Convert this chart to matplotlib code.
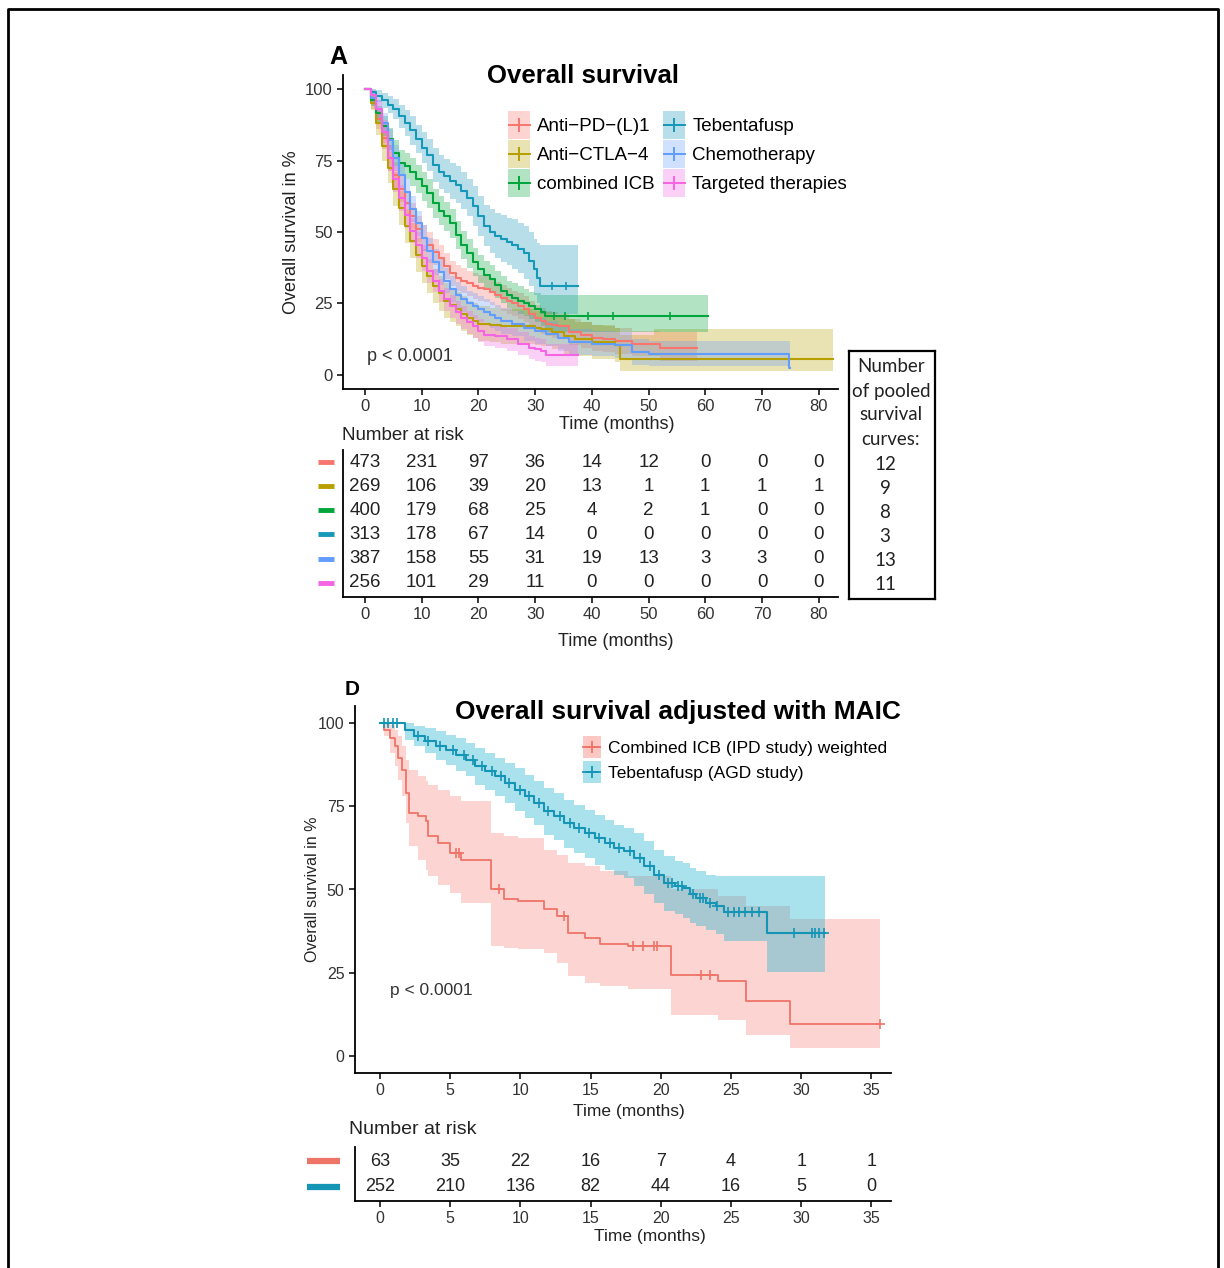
import numpy as np
import matplotlib.pyplot as plt
import matplotlib.transforms as mtrans
from matplotlib.lines import Line2D

plt.rcParams['font.family'] = ['Liberation Sans', 'DejaVu Sans']

W, H = 1224, 1268

# ---------------- panel A data ----------------
groups_a = ['Anti\u2212PD\u2212(L)1', 'Anti\u2212CTLA\u22124', 'combined ICB',
            'Tebentafusp', 'Chemotherapy', 'Targeted therapies']
colors_a = ['#F8766D', '#B79F00', '#00A63C', '#1698B8', '#619CFF', '#F564E3']

pd_t = [0, 1, 2, 3, 4, 5, 6, 7, 8, 9, 10, 11, 12, 13, 14, 15, 16, 17, 18, 19, 20, 21, 22, 23, 24, 25, 26, 27, 28, 29,
        30, 31, 32, 33, 34, 36, 38, 40, 42, 44, 47, 52]
pd_s = [100, 95, 89.5, 83, 76, 70, 65, 60, 55.5, 51, 48, 45.5, 43, 41, 38, 35.5, 34, 33, 32, 31, 30.5, 30, 29, 28, 27,
        26, 25, 24, 23, 21.5, 20, 19, 18, 17.5, 17, 15, 14, 13, 12.5, 12, 11, 9.5]
pd_hi = [100, 97, 93, 87, 80.5, 74.5, 69.5, 64.5, 60, 55.5, 52.5, 50, 47.5, 45.5, 42.5, 40, 38.5, 37.5, 36.5, 35.5, 35,
         34.5, 33.5, 32.5, 31.5, 30.5, 29.5, 28.5, 27.5, 26, 24.5, 23.5, 22.5, 22, 21.5, 19.5, 18.5, 17.5, 17, 16.5,
         15.5, 15]
pd_lo = [100, 93, 86, 79, 71.5, 65.5, 60.5, 55.5, 51, 46.5, 43.5, 41, 38.5, 36.5, 33.5, 31, 29.5, 28.5, 27.5, 26.5, 26,
         25.5, 24.5, 23.5, 22.5, 21.5, 20.5, 19.5, 18.5, 17, 15.5, 14.5, 13.5, 13, 12.5, 10.5, 9.5, 8.5, 8, 7.5, 6.5, 5]
pd_end = 58.5

ctla_t = [0, 1, 2, 3, 4, 5, 6, 7, 8, 9, 10, 11, 12, 13, 14, 15, 16, 17, 18, 19, 20, 22, 24, 26, 28, 30, 31, 33, 35, 37,
          40, 44, 45, 51]
ctla_s = [100, 95, 88, 80, 72.5, 65, 58.5, 52, 47, 42, 38, 34.5, 31, 28.5, 26, 24.5, 23, 21.5, 20, 19, 18, 17.5, 17, 17,
          17, 16.5, 16, 15, 13.5, 12.5, 11.5, 10.5, 5.5, 5.5]
ctla_hi = [100, 97.5, 92, 85, 78, 71, 64.5, 58, 53, 48, 44, 40.5, 37, 34.5, 32, 30.5, 29, 27.5, 26, 25, 24, 23.5, 23, 23,
           23, 22.5, 22, 21, 19.5, 18.5, 17.5, 16.5, 14, 16]
ctla_lo = [100, 92.5, 84, 75, 67, 59, 52.5, 46, 41, 36, 32, 28.5, 25, 22.5, 20, 18.5, 17, 15.5, 14, 13, 12, 11.5, 11, 11,
           11, 10.5, 10, 9, 7.5, 6.5, 5.5, 4.5, 1.5, 1.5]
ctla_end = 82.5

comb_t = [0, 1, 2, 3, 4, 5, 6, 7, 8, 9, 10, 11, 12, 13, 14, 15, 16, 17, 18, 19, 20, 21, 22, 23, 24, 25, 26, 27, 28, 29,
          30, 31, 31.8]
comb_s = [100, 96, 91.5, 87, 82.5, 77.5, 74, 73, 71, 68.5, 66, 63.5, 60, 57.5, 55.5, 53, 49, 45.5, 42.5, 39.5, 37, 35,
          33.5, 31.5, 29.5, 28, 27, 26, 25, 24, 23, 22, 20.5]
comb_hi = [100, 98, 94, 90.5, 86.5, 82, 78.5, 77.5, 76, 73.5, 71, 68.5, 65, 62.5, 60.5, 58, 54, 50.5, 47.5, 44.5, 42,
           40, 38.5, 36.5, 34.5, 33, 32, 31, 30, 29, 28.5, 28, 28]
comb_lo = [100, 94, 88.5, 83.5, 78.5, 73, 69.5, 68.5, 66, 63.5, 61, 58.5, 55, 52.5, 50.5, 48, 44, 40.5, 37.5, 34.5, 32,
           30, 28.5, 27, 25, 23.5, 22.5, 21.5, 20.5, 19.5, 18.5, 17, 15]
comb_end = 60.5
comb_cens = [33.3, 35.2, 39.3, 43.7, 53.7]

teb_t = [0, 1, 2, 3, 4, 5, 6, 7, 8, 9, 10, 11, 12, 13, 14, 15, 16, 17, 18, 19, 20, 21, 22, 23, 24, 25, 26, 27, 28, 29,
         29.8, 30.4, 30.8]
teb_s = [100, 99, 97.5, 96, 94.5, 93, 90.5, 88, 85.5, 82.5, 79.5, 77, 73.5, 71, 69.5, 68, 66.5, 64.5, 62, 59, 55.5, 52,
         50, 48.5, 47.5, 46.5, 45.5, 44, 42.5, 40, 37, 34, 31]
teb_hi = [100, 100, 99.5, 98.5, 97.5, 96.5, 94.5, 92.5, 90.5, 87.5, 85, 82.5, 79.5, 77, 75.5, 74, 73, 71, 68.5, 66,
          62.5, 59.5, 58, 56.5, 56, 55, 54.5, 53, 52, 50, 47.5, 46, 45.5]
teb_lo = [100, 98, 95.5, 93.5, 91.5, 89.5, 86.5, 83.5, 80.5, 77.5, 74, 71.5, 67.5, 65, 63.5, 61.5, 60, 58, 55.5, 52,
          48.5, 45, 42.5, 41, 39.5, 38.5, 37, 35.5, 33.5, 31, 28, 25, 21.5]
teb_end = 37.6
teb_cens = [33.0, 35.5]

chemo_t = [0, 1, 2, 3, 4, 5, 6, 7, 8, 9, 10, 11, 12, 13, 14, 15, 16, 17, 18, 19, 20, 21, 22, 23, 24, 26, 28, 30, 32,
           34, 36, 40, 44, 47, 50, 74.8]
chemo_s = [100, 97, 93, 88, 82, 76, 70, 64, 58, 53, 48, 43.5, 39.5, 36, 33, 30, 28, 26.5, 25, 24, 23, 22, 21, 20, 19,
           18, 16.5, 15.5, 14.5, 13, 11.5, 11, 10.5, 8, 7.5, 2.5]
chemo_hi = [100, 99, 96, 91.5, 86, 80.5, 74.5, 68.5, 62.5, 57.5, 52.5, 48, 44, 40.5, 37.5, 34.5, 32.5, 31, 29.5, 28.5,
            27.5, 26.5, 25.5, 24.5, 23.5, 22.5, 21, 20, 19, 17.5, 16, 15.5, 15, 12.5, 12, 12]
chemo_lo = [100, 95, 90, 84.5, 78, 71.5, 65.5, 59.5, 53.5, 48.5, 43.5, 39, 35, 31.5, 28.5, 25.5, 23.5, 22, 20.5, 19.5,
            18.5, 17.5, 16.5, 15.5, 14.5, 13.5, 12, 11, 10, 8.5, 7, 6.5, 6, 3.5, 3, 2.5]
chemo_end = 75.0

tt_t = [0, 1, 2, 3, 4, 5, 6, 7, 8, 9, 10, 11, 12, 13, 14, 15, 16, 17, 18, 19, 20, 21, 23, 25, 27, 29, 30, 31, 32]
tt_s = [100, 98, 93, 85, 76, 68.5, 62, 56, 50.5, 45.5, 41, 36.5, 33, 29.5, 26.5, 24, 22, 20, 18.5, 17, 15.5, 14, 13.5,
        12.5, 11, 9.5, 9, 8.5, 7]
tt_hi = [100, 99.5, 96, 89, 80.5, 73, 66.5, 60.5, 55, 50, 45.5, 41, 37, 33.5, 30.5, 28, 26, 24, 22.5, 21, 19.5, 18, 17.5,
         16.5, 15, 13.5, 13, 12.5, 11]
tt_lo = [100, 96.5, 90, 81, 71.5, 64, 57.5, 51.5, 46, 41, 36.5, 32, 29, 25.5, 22.5, 20, 18, 16, 14.5, 13, 11.5, 10, 9.5,
         8.5, 7, 5.5, 5, 4.5, 3]
tt_end = 37.5

risk_times_a = [0, 10, 20, 30, 40, 50, 60, 70, 80]
risk_a = [[473, 231, 97, 36, 14, 12, 0, 0, 0],
          [269, 106, 39, 20, 13, 1, 1, 1, 1],
          [400, 179, 68, 25, 4, 2, 1, 0, 0],
          [313, 178, 67, 14, 0, 0, 0, 0, 0],
          [387, 158, 55, 31, 19, 13, 3, 3, 0],
          [256, 101, 29, 11, 0, 0, 0, 0, 0]]
pooled = [12, 9, 8, 3, 13, 11]

# ---------------- panel D data ----------------
labels_d = ['Combined ICB (IPD study) weighted', 'Tebentafusp (AGD study)']
colors_d = ['#EE7468', '#1495B5']
bands_d = ['#F8766D', '#2AB6D0']

icb_t = [0, 0.3, 0.7, 1.1, 1.3, 1.55, 1.85, 2.1, 2.7, 3.25, 3.4, 4.1, 5, 5.8, 7.9, 8.8, 9.8, 11.7, 12.6, 13.4, 14.6,
         15.7, 17.7, 20.7, 24.1, 26.1, 29.2]
icb_s = [100, 98, 95.5, 93, 89.5, 86, 79, 73, 72, 70.5, 66, 64, 61, 59, 50, 47, 46.5, 44, 42, 37, 35.5, 33.5, 33, 24.3,
         22.5, 16.5, 9.5]
icb_hi = [100, 100, 99.5, 98, 96, 93, 89, 86, 84, 82.5, 81.5, 80, 78, 76.5, 67, 66, 65.5, 62, 60.5, 58, 57, 55.5, 54,
          50, 48, 45, 41]
icb_lo = [100, 96, 91, 87, 83, 78, 70, 63, 59, 56, 54, 51.5, 49, 46, 33, 32.5, 32, 31, 28, 24, 22, 21, 20, 12.3, 10.8,
          6.3, 2.4]
icb_end = 35.6
icb_cens = [5.4, 5.6, 8.5, 13.1, 18.0, 18.7, 19.5, 19.7, 22.9, 23.5, 35.6]

tebd_t = [0, 1.4, 1.8, 2.4, 3.2, 4, 4.7, 5.4, 6.1, 6.8, 7.5, 8.2, 8.9, 9.6, 10.3, 11, 11.7, 12.4, 13.1, 13.8, 14.6,
          15.3, 16, 16.7, 17.4, 18.1, 18.8, 19.5, 20.2, 21, 21.6, 22.1, 22.5, 23.2, 23.9, 24.5, 27.6]
tebd_s = [100, 100, 98, 96, 94.5, 93, 92, 90.5, 89, 87, 85.5, 84, 82, 80, 78, 76, 73.5, 72, 70, 68.5, 67, 65.5, 64,
          62.5, 61.5, 59.5, 57, 54.5, 52, 51, 50.5, 48.5, 47.5, 46, 45, 43.2, 36.8]
tebd_hi = [100, 100, 100, 99, 98.5, 97.5, 96.5, 95.5, 94, 92.5, 91, 89.5, 88, 86.5, 84.5, 82.5, 80.5, 79, 77, 75.5, 74,
           72.5, 71, 69.5, 68.5, 67, 64.5, 62, 60, 58.5, 58, 56.5, 55.5, 54.5, 54, 54, 54]
tebd_lo = [100, 100, 95, 93, 91, 89, 87.5, 85.5, 84, 81.5, 80, 78, 76, 73.5, 71.5, 69.5, 66.5, 65, 62.5, 61, 59.5, 57.5,
           56, 54.5, 53.5, 51, 48.5, 46, 43.5, 42.5, 41.5, 40, 39, 37.8, 36.5, 34.5, 25.3]
tebd_end = 31.7
tebd_cens = [0.3, 0.6, 0.9, 1.2, 2.7, 3.4, 4.3, 5.2, 6.0, 6.6, 7.3, 8.0, 8.6, 9.2, 10.0, 10.6, 11.3, 12.0, 12.8,
             13.5, 14.2, 14.9, 15.6, 16.4, 17.0, 17.8, 18.5, 19.2, 19.9, 20.5, 20.8, 21.2, 21.5, 22.3, 22.8, 23.0,
             23.5, 24.0, 24.8, 25.2, 25.6, 26.0, 26.5, 27.0, 29.5, 30.8, 31.0, 31.3, 31.6]

risk_times_d = [0, 5, 10, 15, 20, 25, 30, 35]
risk_d = [[63, 35, 22, 16, 7, 4, 1, 1],
          [252, 210, 136, 82, 44, 16, 5, 0]]


def rect(l, t, r, b):
    return [l / W, 1 - b / H, (r - l) / W, (b - t) / H]


def km_band(ax, t, lo, hi, end, band, alpha):
    tt = np.append(t, end)
    ax.fill_between(tt, np.append(lo, lo[-1]), np.append(hi, hi[-1]), step='post',
                    color=band, alpha=alpha, lw=0)


def km_line(ax, t, s, end, col, lw, cens=None, ms=7):
    tt = np.append(t, end)
    ax.step(tt, np.append(s, s[-1]), where='post', color=col, lw=lw)
    if cens:
        idx = np.searchsorted(t, cens, side='right') - 1
        ax.plot(cens, np.array(s)[idx], ls='', marker='+', color=col, ms=ms, mew=1.2)


def style(ax, fs):
    for sp in ['top', 'right']:
        ax.spines[sp].set_visible(False)
    for sp in ['left', 'bottom']:
        ax.spines[sp].set_linewidth(1.3)
    ax.tick_params(length=4, width=1.1, labelsize=fs, labelcolor='#333333')


key_marker = [(-0.78, -1), (0.78, -1), (0.78, 1), (-0.78, 1), (-0.78, -1)]

fig = plt.figure(figsize=(W / 100, H / 100), dpi=100)

# frame round the figure (open at the bottom)
fig.add_artist(Line2D([7.5 / W, 7.5 / W, 1217.5 / W, 1217.5 / W], [0, 1 - 8.5 / H, 1 - 8.5 / H, 0],
                      color='black', lw=2, transform=fig.transFigure))

# ---------------- panel A ----------------
ax = fig.add_axes(rect(343, 75, 838, 389))
curves_a = [(pd_t, pd_s, pd_lo, pd_hi, pd_end, None),
            (ctla_t, ctla_s, ctla_lo, ctla_hi, ctla_end, None),
            (comb_t, comb_s, comb_lo, comb_hi, comb_end, comb_cens),
            (teb_t, teb_s, teb_lo, teb_hi, teb_end, teb_cens),
            (chemo_t, chemo_s, chemo_lo, chemo_hi, chemo_end, None),
            (tt_t, tt_s, tt_lo, tt_hi, tt_end, None)]
for (t, s, lo, hi, end, c), col in zip(curves_a, colors_a):
    km_band(ax, t, lo, hi, end, col, 0.3)
for (t, s, lo, hi, end, c), col in zip(curves_a, colors_a):
    km_line(ax, t, s, end, col, 1.5, c, ms=6)
ax.set_xlim(-3.88, 83.4)
ax.set_ylim(-4.9, 104.9)
ax.set_xticks(risk_times_a)
ax.set_yticks([0, 25, 50, 75, 100])
style(ax, 12)
ax.set_ylabel('Overall survival in %', fontsize=13, color='#222222')
ax.yaxis.set_label_coords(-0.087, 0.5)
ax.set_xlabel('Time (months)', fontsize=13, color='#222222')
ax.xaxis.set_label_coords(0.5535, -0.086)
ax.text(0.35, 6.3, 'p < 0.0001', fontsize=13, va='center', ha='left', color='#333333')

handles = [(Line2D([], [], ls='', marker=key_marker, ms=19.5, color=c, alpha=0.3, mew=0),
            Line2D([], [], color=c, marker='+', ms=10, mew=1.4, lw=1.4)) for c in colors_a]
fig.legend(handles, groups_a, ncol=2, loc='upper left', bbox_to_anchor=(509 / W, 1 - 118 / H),
           frameon=False, fontsize=13.5, handlelength=1.1, handletextpad=0.4, columnspacing=0.5,
           labelspacing=0.64, borderpad=0, borderaxespad=0)

fig.text(338 / W, 1 - 57 / H, 'A', fontsize=18, fontweight='bold', ha='center', va='center')
fig.text(583 / W, 1 - 76 / H, 'Overall survival', fontsize=18.5, fontweight='bold', ha='center', va='center')

# risk table A
rt = fig.add_axes(rect(343, 450, 838, 597))
n = len(risk_a)
for i, row in enumerate(risk_a):
    y = n - i
    for x, v in zip(risk_times_a, row):
        rt.text(x, y, str(v), ha='center', va='center', fontsize=13.5, color='#222222')
    rt.plot([-0.0505, -0.018], [y, y], color=colors_a[i], lw=3.5, solid_capstyle='butt',
            transform=rt.get_yaxis_transform(), clip_on=False)
rt.set_xlim(-3.88, 83.4)
rt.set_ylim(0.40, n + 0.51)
rt.set_yticks([])
rt.set_xticks(risk_times_a)
style(rt, 12)
rt.set_xlabel('Time (months)', fontsize=13, color='#222222')
rt.xaxis.set_label_coords(0.55, -0.245)
fig.text(342 / W, 1 - 435 / H, 'Number at risk', fontsize=13.5, ha='left', va='center', color='#222222')

# box with the number of pooled curves
bx = fig.add_axes(rect(849, 351, 935, 599))
bx.set_xticks([])
bx.set_yticks([])
for sp in bx.spines.values():
    sp.set_linewidth(1.6)
for k, line in enumerate(['Number', 'of pooled', 'survival', 'curves:']):
    fig.text(891 / W, 1 - (367 + 24 * k) / H, line, fontsize=13.5, ha='center', va='center',
             family=['Lato', 'DejaVu Sans'], color='#222222')
btr = mtrans.blended_transform_factory(fig.transFigure, rt.transData)
for i, v in enumerate(pooled):
    fig.text(885 / W, n - i - 0.08, str(v), fontsize=13.5, ha='center', va='center',
             family=['Lato', 'DejaVu Sans'], color='#222222', transform=btr)

# ---------------- panel D ----------------
ad = fig.add_axes(rect(355, 706, 891, 1073))
km_band(ad, icb_t, icb_lo, icb_hi, icb_end, bands_d[0], 0.3)
km_band(ad, tebd_t, tebd_lo, tebd_hi, tebd_end, bands_d[1], 0.4)
km_line(ad, icb_t, icb_s, icb_end, colors_d[0], 1.3, icb_cens, ms=7)
km_line(ad, tebd_t, tebd_s, tebd_end, colors_d[1], 1.5, tebd_cens, ms=7)
ad.set_xlim(-1.78, 36.4)
ad.set_ylim(-5.1, 105.1)
ad.set_xticks(risk_times_d)
ad.set_yticks([0, 25, 50, 75, 100])
style(ad, 11.5)
ad.set_ylabel('Overall survival in %', fontsize=11.5, color='#222222')
ad.yaxis.set_label_coords(-0.065, 0.5)
ad.set_xlabel('Time (months)', fontsize=12.5, color='#222222')
ad.xaxis.set_label_coords(0.511, -0.0845)
ad.text(0.7, 19.8, 'p < 0.0001', fontsize=12.5, va='center', ha='left', color='#333333')

handles_d = [(Line2D([], [], ls='', marker=key_marker, ms=16, color=b, alpha=0.4, mew=0),
              Line2D([], [], color=c, marker='+', ms=9, mew=1.3, lw=1.3)) for c, b in zip(colors_d, bands_d)]
fig.legend(handles_d, labels_d, loc='upper left', bbox_to_anchor=(583 / W, 1 - 741 / H),
           frameon=False, fontsize=12.5, handlelength=1.0, handletextpad=0.46,
           labelspacing=0.56, borderpad=0, borderaxespad=0)

fig.text(352 / W, 1 - 690 / H, 'D', fontsize=15, fontweight='bold', ha='center', va='center')
fig.text(678 / W, 1 - 712 / H, 'Overall survival adjusted with MAIC', fontsize=18.9, fontweight='bold',
         ha='center', va='center')

# risk table D
rd = fig.add_axes(rect(355, 1147, 891, 1201))
nd = len(risk_d)
for i, row in enumerate(risk_d):
    y = nd - i
    for x, v in zip(risk_times_d, row):
        rd.text(x, y, str(v), ha='center', va='center', fontsize=13, color='#222222')
    rd.plot([-0.0896, -0.028], [y, y], color=colors_d[i], lw=4.5, solid_capstyle='butt',
            transform=rd.get_yaxis_transform(), clip_on=False)
rd.set_xlim(-1.78, 36.4)
rd.set_ylim(0.46, nd + 0.54)
rd.set_yticks([])
rd.set_xticks(risk_times_d)
style(rd, 11.5)
rd.set_xlabel('Time (months)', fontsize=12.5, color='#222222')
rd.xaxis.set_label_coords(0.55, -0.52)
fig.text(349 / W, 1 - 1129 / H, 'Number at risk', fontsize=14, ha='left', va='center', color='#222222')

fig.savefig('out.png', dpi=100)
